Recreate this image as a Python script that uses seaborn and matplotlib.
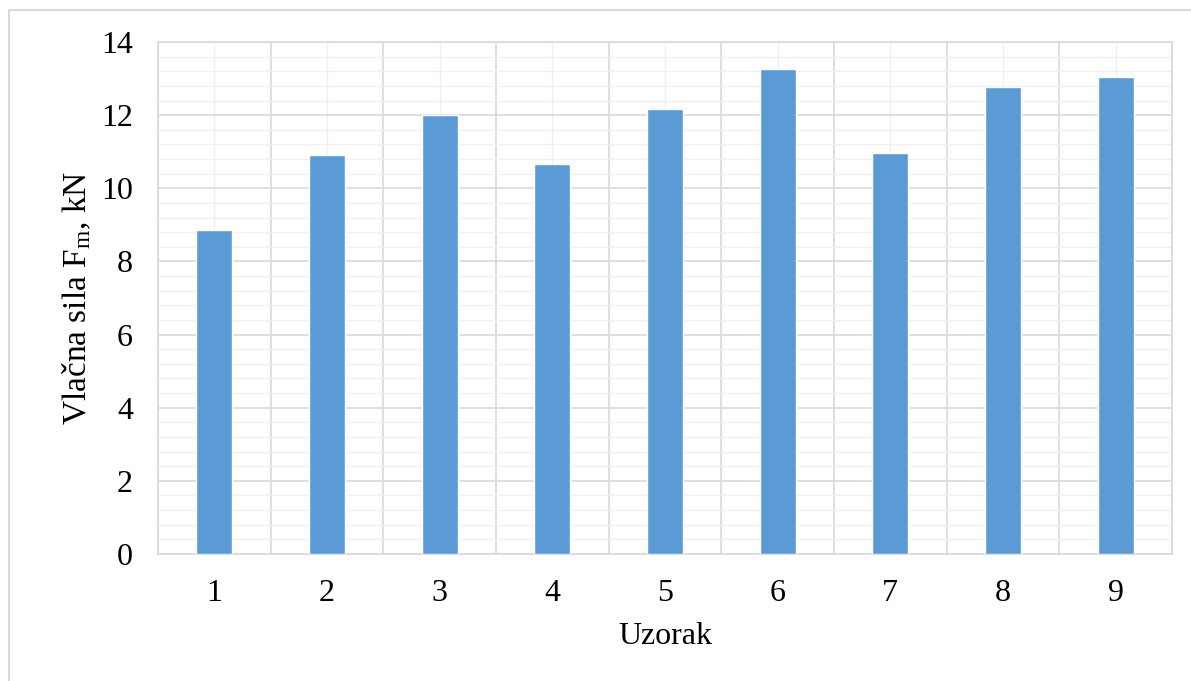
import matplotlib
matplotlib.use('Agg')
import matplotlib.pyplot as plt
from matplotlib.patches import Rectangle
import seaborn as sns
import numpy as np
import pandas as pd

# values
samples = ['1', '2', '3', '4', '5', '6', '7', '8', '9']
force_kn = [8.86, 10.91, 12.0, 10.66, 12.17, 13.26, 10.96, 12.77, 13.04]

y_ticks = [0, 2, 4, 6, 8, 10, 12, 14]

df = pd.DataFrame({'Uzorak': samples, 'Fm': force_kn})

sns.set_theme(style='white')
plt.rcParams['font.family'] = ['Liberation Serif', 'DejaVu Serif']
plt.rcParams['mathtext.fontset'] = 'custom'
plt.rcParams['mathtext.rm'] = 'Liberation Serif'
plt.rcParams['mathtext.it'] = 'Liberation Serif:italic'
plt.rcParams['axes.labelcolor'] = 'black'
plt.rcParams['text.color'] = 'black'

fig = plt.figure(figsize=(11.91, 6.81), dpi=100)
ax = fig.add_axes([158 / 1191, 1 - 554 / 681, (1172 - 158) / 1191, (554 - 42) / 681])

sns.barplot(data=df, x='Uzorak', y='Fm', color='#5B9BD5', width=0.32,
            saturation=1, ax=ax, zorder=3)

ax.set_xlim(-0.5, len(samples) - 0.5)
ax.set_ylim(0, 14)
ax.set_yticks(y_ticks)
ax.set_yticks(np.arange(0, 14.01, 0.4), minor=True)
ax.set_xticks(np.arange(-0.5, len(samples), 1), minor=True)

major_c = '#d9d9d9'
minor_c = '#f0f0f0'
ax.grid(axis='y', which='major', color=major_c, linewidth=1.2, zorder=0)
ax.grid(axis='y', which='minor', color=minor_c, linewidth=1.0, zorder=0)
ax.grid(axis='x', which='minor', color=major_c, linewidth=1.2, zorder=0)
ax.grid(axis='x', which='major', color=minor_c, linewidth=1.0, zorder=0)
ax.set_axisbelow(True)

for s in ax.spines.values():
    s.set_color(major_c)
    s.set_linewidth(1.2)

ax.tick_params(axis='both', which='both', length=0, labelsize=23, colors='black')
ax.tick_params(axis='x', pad=18)
ax.tick_params(axis='y', pad=18)

ax.set_xlabel('Uzorak', fontsize=23, labelpad=10, color='black')
ax.set_ylabel(r'Vlačna sila F$_{\mathrm{m}}$, kN', fontsize=24, labelpad=6, color='black')

# light border around the chart
fig.add_artist(Rectangle((9 / 1191, -0.1), 1.2, 1.1 - 10 / 681, transform=fig.transFigure,
                         fill=False, edgecolor='#d9d9d9', linewidth=1.5))

fig.savefig('out.png', dpi=100)
